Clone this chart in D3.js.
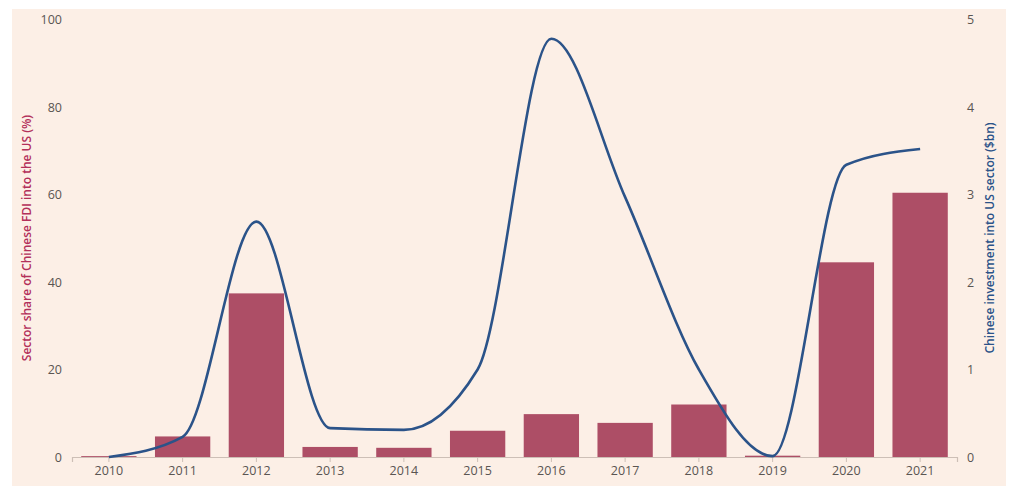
<!DOCTYPE html>
<html lang="en">
<head>
  <meta charset="UTF-8">
  <title>Chinese FDI into the US</title>
  <script src="https://d3js.org/d3.v7.min.js"></script>
  <style>
    body { margin: 0; background: #fff; }
    text { font-family: "Open Sans", sans-serif; }
  </style>
</head>
<body>
  <script>
    var years = ["2010", "2011", "2012", "2013", "2014", "2015", "2016", "2017", "2018", "2019", "2020", "2021"];
    var sharePct = [0.2, 4.7, 37.4, 2.3, 2.1, 6.0, 9.8, 7.8, 12.0, 0.3, 44.5, 60.4];
    var investBn = [0.0, 0.23, 2.69, 0.33, 0.31, 1.0, 4.78, 2.97, 1.0, 0.01, 3.34, 3.52];
    var leftTicks = [0, 20, 40, 60, 80, 100];
    var rightTicks = [0, 1, 2, 3, 4, 5];

    var w = 1011;
    var h = 486;

    var svg = d3.select("body")
                .append("svg")
                .attr("width", w)
                .attr("height", h);

    svg.append("rect")
       .attr("x", 12).attr("y", 9)
       .attr("width", 994).attr("height", 477)
       .attr("fill", "#fcefe6");

    var xScale = d3.scaleBand()
                   .domain(years)
                   .range([72, 957])
                   .paddingInner(0.25)
                   .paddingOuter(0.125);

    var yLeft = d3.scaleLinear().domain([0, 100]).range([457, 19.5]);
    var yRight = d3.scaleLinear().domain([0, 5]).range([457, 19.5]);

    // bars
    svg.selectAll("rect.bar")
       .data(years)
       .enter()
       .append("rect")
       .attr("class", "bar")
       .attr("x", function(d) { return xScale(d); })
       .attr("y", function(d, i) { return yLeft(sharePct[i]); })
       .attr("width", xScale.bandwidth())
       .attr("height", function(d, i) { return yLeft(0) - yLeft(sharePct[i]); })
       .attr("fill", "#ad4e66");

    // baseline + ticks
    var xAxis = d3.axisBottom(xScale).tickSizeOuter(0).tickSize(5).tickPadding(4);
    var gx = svg.append("g")
       .attr("transform", "translate(0,457)")
       .call(xAxis);
    gx.select(".domain").attr("stroke", "#cdbfb6").attr("stroke-width", 1.2);
    gx.selectAll(".tick line").attr("stroke", "#cdbfb6");
    gx.selectAll(".tick text").attr("fill", "#5a5552").attr("font-size", 12.5);

    var gl = svg.append("g")
       .attr("transform", "translate(72,0)")
       .call(d3.axisLeft(yLeft).tickValues(leftTicks).tickSize(0).tickPadding(10));
    gl.select(".domain").remove();
    gl.selectAll(".tick text").attr("fill", "#5a5552").attr("font-size", 12.5);

    var gr = svg.append("g")
       .attr("transform", "translate(957,0)")
       .call(d3.axisRight(yRight).tickValues(rightTicks).tickFormat(d3.format("d")).tickSize(0).tickPadding(10));
    gr.select(".domain").remove();
    gr.selectAll(".tick text").attr("fill", "#5a5552").attr("font-size", 12.5);

    // line
    var line = d3.line()
                 .x(function(d, i) { return xScale(years[i]) + xScale.bandwidth() / 2; })
                 .y(function(d) { return yRight(d); })
                 .curve(d3.curveMonotoneX);

    svg.append("path")
       .datum(investBn)
       .attr("d", line)
       .attr("fill", "none")
       .attr("stroke", "#2b5389")
       .attr("stroke-width", 2.6);

    // axis titles
    svg.append("text")
       .attr("transform", "translate(31,238) rotate(-90)")
       .attr("text-anchor", "middle")
       .attr("fill", "#b3305a")
       .attr("font-size", 12)
       .attr("font-weight", 600)
       .text("Sector share of Chinese FDI into the US (%)");

    svg.append("text")
       .attr("transform", "translate(994,238) rotate(-90)")
       .attr("text-anchor", "middle")
       .attr("fill", "#2b5389")
       .attr("font-size", 12)
       .attr("font-weight", 600)
       .text("Chinese investment into US sector ($bn)");
  </script>
</body>
</html>
